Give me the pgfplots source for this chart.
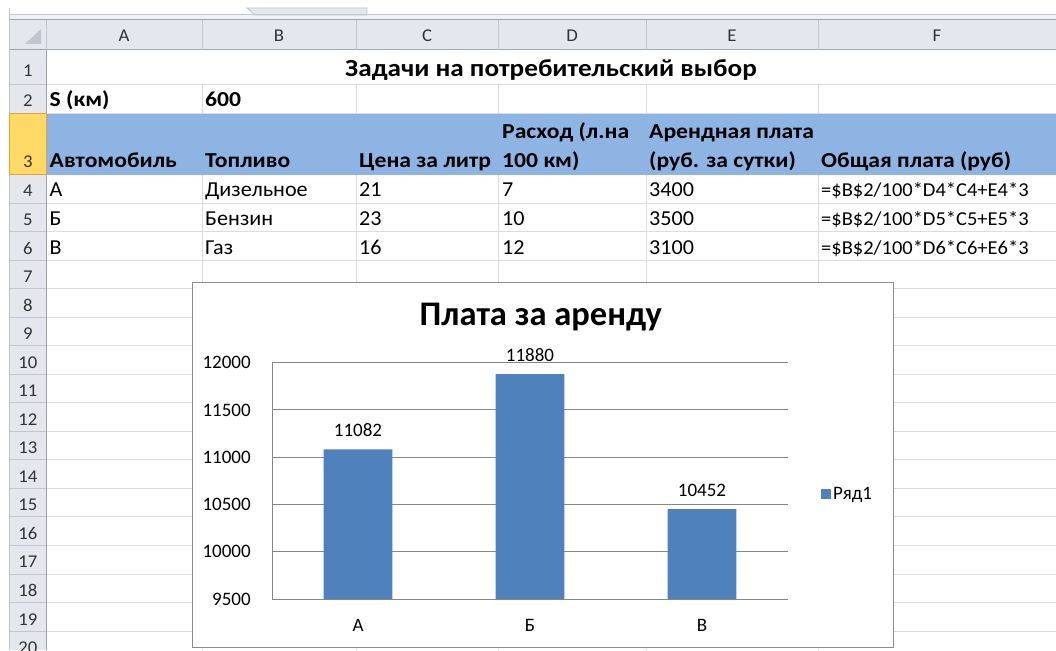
\documentclass[border=0pt]{standalone}
\usepackage{fontspec}
\setmainfont{Carlito}
\newfontfamily\sheetfont[FakeStretch=1.04, BoldFeatures={FakeStretch=1.11}]{Carlito}
\usepackage{pgfplots}
\pgfplotsset{compat=1.18}
\definecolor{hdrbg}{HTML}{E4E8EE}
\definecolor{hdrline}{HTML}{BFC6D0}
\definecolor{hdrdark}{HTML}{9AA5B4}
\definecolor{gridc}{HTML}{DADCDD}
\definecolor{blue3}{HTML}{8DB4E2}
\definecolor{selY}{HTML}{FFD966}
\definecolor{selO}{HTML}{E2A33A}
\definecolor{barblue}{HTML}{4F81BD}
\definecolor{chgrid}{HTML}{868686}
\definecolor{chbox}{HTML}{8C8C8C}
\definecolor{hdrtxt}{HTML}{333333}
\newcommand{\cellfont}{\sheetfont\fontsize{21.3}{24}\selectfont}
\newcommand{\fmfont}{\sheetfont\fontsize{19.7}{22}\selectfont}
\newcommand{\hdrfont}{\sheetfont\fontsize{18}{21}\selectfont}
\newcommand{\chfont}{\fontsize{19}{22}\selectfont}
\begin{document}
\begin{tikzpicture}[x=1pt,y=1pt]
\path[use as bounding box] (0,0) rectangle (1056,650);
\begin{scope}
\clip (0,0) rectangle (1056,650);
\begin{scope}[y=-1pt, shift={(0pt,650pt)}]
\fill[white] (0,0) rectangle (1056,650);
% top strip
\fill[hdrbg!60] (9.5,15) rectangle (1056,20);
\filldraw[fill=hdrbg, draw=hdrline, line width=0.8pt] (247,8) -- (255,15) -- (367,15) -- (367,8) -- cycle;
\draw[hdrline, line width=1pt] (9.5,15) -- (1056,15);
\draw[hdrdark, line width=1pt] (9.5,20) -- (1056,20);
\draw[hdrline, line width=1pt] (9.5,8) -- (9.5,650);
% column header row
\fill[hdrbg] (9.5,20.5) rectangle (1056,50);
\draw[hdrdark, line width=1pt] (9.5,50) -- (1056,50);
\foreach \cx in {46,202,356,498.5,646,818}{\draw[hdrline, line width=1pt] (\cx,20.5) -- (\cx,50);}
\fill[hdrline] (25,44) -- (41,44) -- (41,29) -- cycle;
% row header column
\fill[hdrbg] (9.5,50) rectangle (46,650);
\foreach \ry in {85,114,175,203.5,232,260.5,289,317.5,346,374.5,403,431.5,460,488.5,517,545.5,574,602.5,631}{
  \draw[hdrline, line width=1pt] (9.5,\ry) -- (46,\ry);
  \draw[gridc, line width=1pt] (46,\ry) -- (1056,\ry);}
\foreach \cx in {202,356,498.5,646,818}{\draw[gridc, line width=1pt] (\cx,85) -- (\cx,650);}
\draw[hdrdark, line width=1pt] (46,50) -- (46,650);
% row 3 selected header and blue fill
\fill[blue3] (46.5,114.5) rectangle (1056,175);
\filldraw[fill=selY, draw=selO, line width=1pt] (9.5,114) rectangle (46,175);
% column letters
\foreach \cx/\cl in {124/A,279/B,427/C,572/D,732/E,937/F}{\node[anchor=base, inner sep=0pt, text=hdrtxt] at (\cx,42) {\hdrfont \cl};}
% row numbers
\foreach \n/\by in {1/77,2/107,3/168,4/197,5/226,6/254.5,7/283,8/311.5,9/340,10/368.5,11/397,12/425.5,13/454,14/482.5,15/511,16/539.5,17/568,18/596.5,19/625,20/653.5}{\node[anchor=base, inner sep=0pt, text=hdrtxt] at (27.8,\by) {\hdrfont \n};}
% title row
\node[anchor=base, inner sep=0pt] at (551,77) {\sheetfont\fontsize{24.5}{28}\selectfont\bfseries Задачи на потребительский выбор};
% row 2
\node[anchor=base west, inner sep=0pt] at (49.5,107) {\cellfont\bfseries S (км)};
\node[anchor=base west, inner sep=0pt] at (205,107) {\cellfont\bfseries 600};
% row 3
\node[anchor=base west, inner sep=0pt] at (502,139) {\cellfont\bfseries Расход (л.на};
\node[anchor=base west, inner sep=0pt] at (649,139) {\cellfont\bfseries Арендная плата};
\node[anchor=base west, inner sep=0pt] at (49.5,168) {\cellfont\bfseries Автомобиль};
\node[anchor=base west, inner sep=0pt] at (205,168) {\cellfont\bfseries Топливо};
\node[anchor=base west, inner sep=0pt] at (359,168) {\cellfont\bfseries Цена за литр};
\node[anchor=base west, inner sep=0pt] at (502,168) {\cellfont\bfseries 100 км)};
\node[anchor=base west, inner sep=0pt] at (649,168) {\cellfont\bfseries (руб. за сутки)};
\node[anchor=base west, inner sep=0pt] at (821,168) {\cellfont\bfseries Общая плата (руб)};
% data rows
\foreach \by/\a/\b/\c/\d/\e/\r in {197/А/Дизельное/21/7/3400/4,226/Б/Бензин/23/10/3500/5,254.5/В/Газ/16/12/3100/6}{
  \node[anchor=base west, inner sep=0pt] at (49.5,\by) {\cellfont \a};
  \node[anchor=base west, inner sep=0pt] at (205,\by) {\cellfont \b};
  \node[anchor=base west, inner sep=0pt] at (359,\by) {\cellfont \c};
  \node[anchor=base west, inner sep=0pt] at (502,\by) {\cellfont \d};
  \node[anchor=base west, inner sep=0pt] at (649,\by) {\cellfont \e};
  \node[anchor=base west, inner sep=0pt] at (821,\by) {\fmfont =\$B\$2/100*D\r*C\r+E\r*3};
}
% chart box
\filldraw[fill=white, draw=chbox, line width=1.2pt] (192.5,282.5) rectangle (893.5,647.5);
\end{scope}
\end{scope}
\begin{axis}[
  at={(272pt,51pt)}, anchor=south west,
  scale only axis, width=516pt, height=236.3pt,
  ybar, bar width=68.7pt,
  xmin=-0.5, xmax=2.5, ymin=9500, ymax=12000,
  enlargelimits=false,
  xtick={0,1,2}, xticklabels={А,Б,В},
  ytick={9500,10000,10500,11000,11500,12000},
  scaled y ticks=false,
  ymajorgrids, grid style={draw=chgrid, line width=1pt},
  axis x line=bottom, axis y line=left,
  axis line style={-, draw=chgrid, line width=1pt},
  tick style={draw=none},
  /pgf/number format/assume math mode=true,
  /pgf/number format/.cd, 1000 sep={}, fixed, precision=0, /pgfplots/.cd,
  yticklabel style={font=\chfont, inner sep=0pt, anchor=east, xshift=-19pt},
  xticklabel style={font=\chfont, inner sep=0pt, anchor=north, yshift=-18pt},
  title={Плата за аренду},
  title style={at={(0.521,1.131)}, anchor=base, inner sep=0pt, font=\fontsize{34.5}{38}\selectfont\bfseries},
  nodes near coords,
  every node near coord/.append style={font=\chfont, anchor=base, inner sep=0pt, yshift=12.5pt, text=black},
  legend style={at={(1.064,0.444)}, anchor=west, draw=none, fill=none, font=\chfont, inner sep=0pt},
  legend image code/.code={\fill[barblue] (-2pt,-5pt) rectangle (8pt,5pt);},
  clip=false,
]
\addplot[fill=barblue, draw=none] coordinates {(0,11082) (1,11880) (2,10452)};
\addlegendentry{Ряд1}
\end{axis}
\end{tikzpicture}
\end{document}
